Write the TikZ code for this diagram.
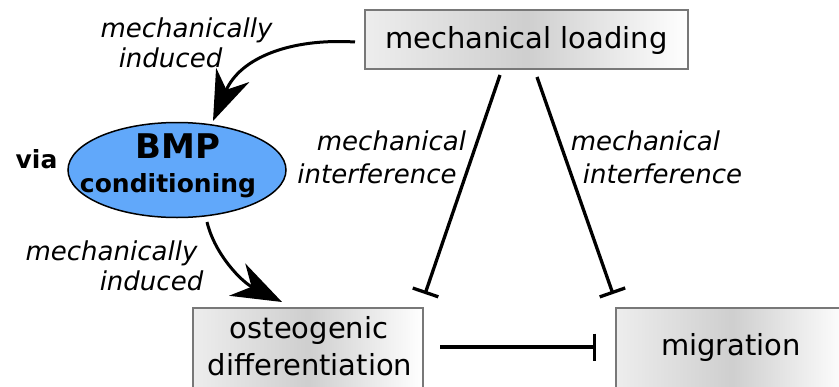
\documentclass[tikz,border=0pt]{standalone}
\usepackage{fontspec}
\setmainfont{DejaVu Sans}
\usetikzlibrary{arrows.meta,shapes.geometric}
\definecolor{bmpblue}{RGB}{97,168,250}
\definecolor{boxborder}{RGB}{120,120,120}
\tikzset{
  boxshape/.style={draw=boxborder, line width=1.4pt, rectangle, inner sep=0pt, outer sep=0pt,
    left color=gray!14, right color=white, middle color=gray!38},
  boxtext/.style={inner sep=0pt, anchor=base, font=\fontsize{29}{34}\selectfont},
  lbl/.style={inner sep=0pt, anchor=base, font=\fontsize{26}{30}\selectfont\itshape},
  inhib/.style={line width=3.3pt, -{Bar[width=27pt]}},
  curvearrow/.style={line width=3pt, -{Stealth[length=50pt,width=36pt,inset=16pt]}},
}
\begin{document}
\begin{tikzpicture}[x=1pt,y=-1pt]
\useasboundingbox (0,0) rectangle (839,386);

% boxes
\node[boxshape, minimum width=323pt, minimum height=59pt] (ml) at (526.5,39.5) {};
\node[boxtext] (mltext) at (526.5,48) {mechanical loading};

\node[boxshape, minimum width=230pt, minimum height=90pt] (ost) at (308,353) {};
\node[boxtext] (osta) at (309,338) {osteogenic};
\node[boxtext] (ostb) at (310,375) {differentiation};

\node[boxshape, minimum width=232pt, minimum height=90pt] (mig) at (732,353) {};
\node[boxtext] (migtext) at (731,355) {migration};

% BMP ellipse
\node[ellipse, draw=black, line width=1.5pt, fill=bmpblue, minimum width=218pt, minimum height=95pt, inner sep=0pt] (bmp) at (177,170) {};
\node[inner sep=0pt, anchor=base, font=\fontsize{34}{40}\selectfont\bfseries] (bmpa) at (178,158) {BMP};
\node[inner sep=0pt, anchor=base, font=\fontsize{25}{30}\selectfont\bfseries] (bmpb) at (168,192) {conditioning};
\node[inner sep=0pt, anchor=base, font=\fontsize{25}{30}\selectfont\bfseries] (via) at (36.5,168) {via};

% connector end points
\coordinate (c1s) at (355,42);
\coordinate (c1e) at (213,121);
\coordinate (c2s) at (207,222);
\coordinate (c2e) at (282,302);
\coordinate (l1s) at (500,75);
\coordinate (l1e) at (425,294);
\coordinate (l2s) at (537,77);
\coordinate (l2e) at (613,294);
\coordinate (hs) at (440,347);
\coordinate (he) at (596,347);

% curved arrows
\draw[curvearrow] (c1s) .. controls (290,38) and (240,58) .. (c1e);
\draw[curvearrow] (c2s) .. controls (215,255) and (242,282) .. (c2e);

% inhibitions
\draw[inhib] (l1s) -- (l1e);
\draw[inhib] (l2s) -- (l2e);
\draw[inhib] (hs) -- (he);

% labels
\node[lbl] (t1a) at (186.5,37) {mechanically};
\node[lbl] (t1b) at (170.5,67) {induced};
\node[lbl] (t2a) at (111.5,260) {mechanically};
\node[lbl] (t2b) at (151.5,290) {induced};
\node[lbl] (t3a) at (391.5,150) {mechanical};
\node[lbl] (t3b) at (377,183) {interference};
\node[lbl] (t4a) at (645.5,150) {mechanical};
\node[lbl] (t4b) at (662.5,183) {interference};
\end{tikzpicture}
\end{document}
